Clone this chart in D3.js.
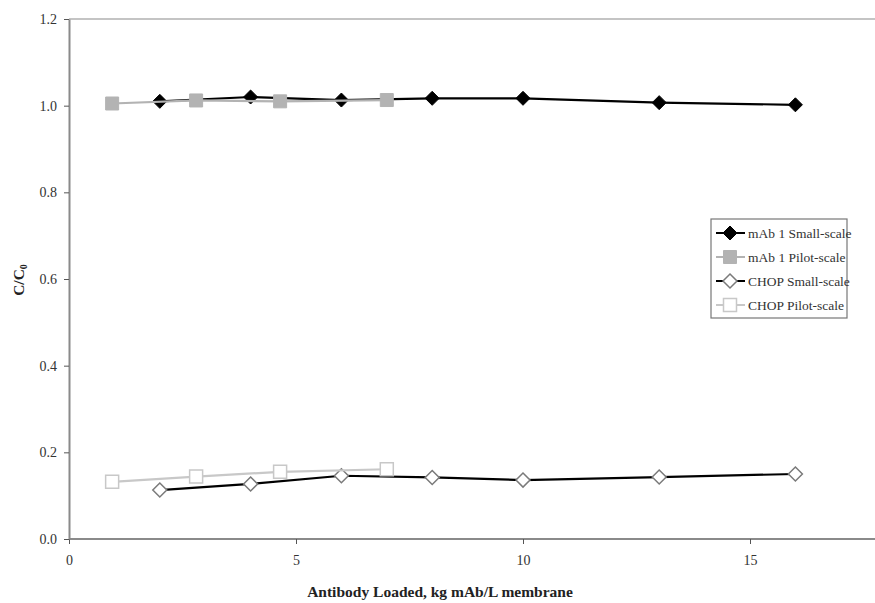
<!DOCTYPE html>
<html>
<head>
<meta charset="utf-8">
<script src="https://cdn.jsdelivr.net/npm/d3@7"></script>
<style>
  html, body { margin: 0; padding: 0; background: #fff; }
  svg, svg text { font-family: "Liberation Serif", "Times New Roman", serif; }
  svg { display: block; }
</style>
</head>
<body>
<div id="chart"></div>
<script>
// data
const smallX = [2, 4, 6, 8, 10, 13, 16];
const pilotX = [0.95, 2.8, 4.65, 7.0];
const mabSmall = [1.010, 1.020, 1.013, 1.017, 1.017, 1.007, 1.002];
const mabPilot = [1.005, 1.012, 1.010, 1.013];
const chopSmall = [0.113, 0.127, 0.146, 0.142, 0.136, 0.143, 0.150];
const chopPilot = [0.132, 0.144, 0.155, 0.161];
const xTicks = [0, 5, 10, 15];
const yTicks = [0, 0.2, 0.4, 0.6, 0.8, 1.0, 1.2];

const series = [
  { name: 'mAb 1 Small-scale', xs: smallX, ys: mabSmall, line: '#000', shape: 'diamond', fill: '#000', stroke: '#000' },
  { name: 'mAb 1 Pilot-scale', xs: pilotX, ys: mabPilot, line: '#b3b3b3', shape: 'square', fill: '#b3b3b3', stroke: '#b3b3b3' },
  { name: 'CHOP Small-scale', xs: smallX, ys: chopSmall, line: '#000', shape: 'diamond', fill: '#fff', stroke: '#7a7a7a' },
  { name: 'CHOP Pilot-scale', xs: pilotX, ys: chopPilot, line: '#c8c8c8', shape: 'square', fill: '#fff', stroke: '#c8c8c8' }
];

const W = 875, H = 603;
const plotLeft = 69, plotTop = 19, plotBottom = 539;
const serif = '"Liberation Serif", "Times New Roman", serif';

const x = d3.scaleLinear().domain([0, 18]).range([plotLeft, plotLeft + 18 * 45.4]);
const y = d3.scaleLinear().domain([0, 1.2]).range([plotBottom, plotTop]);

const svg = d3.select('#chart').append('svg')
  .attr('width', W).attr('height', H)
  .attr('font-family', serif);

// top border of plot area
svg.append('line')
  .attr('x1', plotLeft).attr('x2', W)
  .attr('y1', plotTop).attr('y2', plotTop)
  .attr('stroke', '#c4c4c4').attr('stroke-width', 2);

// axes
const xAxis = svg.append('g')
  .attr('transform', `translate(0,${plotBottom})`)
  .call(d3.axisBottom(x).tickValues(xTicks).tickSize(5).tickPadding(11).tickSizeOuter(0));
const yAxis = svg.append('g')
  .attr('transform', `translate(${plotLeft},0)`)
  .call(d3.axisLeft(y).tickValues(yTicks).tickSize(5).tickPadding(7).tickSizeOuter(0)
    .tickFormat(d3.format('.1f')));

[xAxis, yAxis].forEach(a => {
  a.attr('font-family', serif).attr('font-size', 14);
  a.select('.domain').attr('stroke', '#8a8a8a').attr('stroke-width', 2);
  a.selectAll('.tick line').attr('stroke', '#555').attr('stroke-width', 1);
  a.selectAll('.tick text').attr('fill', '#333');
});
xAxis.select('.domain').attr('d', `M${plotLeft},0H${W}`);

// lines and markers
const line = d3.line().x(d => x(d[0])).y(d => y(d[1]));
const diamond = s => `M0,${-s}L${s},0L0,${s}L${-s},0Z`;
const square = s => `M${-s},${-s}H${s}V${s}H${-s}Z`;

function marker(sel, sr, cx, cy) {
  sel.append('path')
    .attr('d', sr.shape === 'diamond' ? diamond(7) : square(6.5))
    .attr('transform', `translate(${cx},${cy})`)
    .attr('fill', sr.fill)
    .attr('stroke', sr.stroke)
    .attr('stroke-width', sr.fill === '#fff' ? 1.5 : 1);
}

series.forEach(sr => {
  const pts = sr.xs.map((v, i) => [v, sr.ys[i]]);
  svg.append('path')
    .attr('d', line(pts))
    .attr('fill', 'none')
    .attr('stroke', sr.line)
    .attr('stroke-width', 2.2);
  const g = svg.append('g');
  pts.forEach(p => marker(g, sr, x(p[0]), y(p[1])));
});

// legend
const lg = svg.append('g').attr('transform', 'translate(711,219)');
lg.append('rect')
  .attr('width', 136).attr('height', 99)
  .attr('fill', '#fff').attr('stroke', '#777').attr('stroke-width', 1.2);
series.forEach((sr, i) => {
  const ly = 14 + i * 24;
  lg.append('line')
    .attr('x1', 5).attr('x2', 34).attr('y1', ly).attr('y2', ly)
    .attr('stroke', sr.line).attr('stroke-width', 2);
  marker(lg, sr, 19, ly);
  lg.append('text')
    .attr('x', 37).attr('y', ly + 4.5)
    .attr('font-family', serif)
    .attr('font-size', 13.5)
    .attr('fill', '#333')
    .text(sr.name);
});

// axis titles
svg.append('text')
  .attr('x', 440).attr('y', 597)
  .attr('text-anchor', 'middle')
  .attr('font-family', serif)
  .attr('font-size', 15.5).attr('font-weight', 'bold')
  .attr('fill', '#222')
  .text('Antibody Loaded, kg mAb/L membrane');

const yt = svg.append('text')
  .attr('transform', 'translate(24,280) rotate(-90)')
  .attr('text-anchor', 'middle')
  .attr('font-family', serif)
  .attr('font-size', 15.5).attr('font-weight', 'bold')
  .attr('fill', '#222');
yt.append('tspan').text('C/C');
yt.append('tspan').attr('font-size', 10).attr('dy', 3).text('0');
</script>
</body>
</html>
